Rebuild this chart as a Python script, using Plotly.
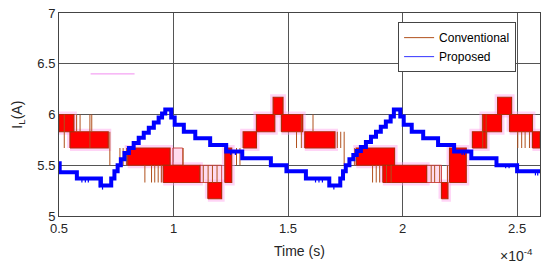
import plotly.graph_objects as go

# ---- data (time in units of 1e-4 s, current in A) ----
# Conventional: dense switching blocks (x_start, x_end, y_low, y_high)
conv_x0 = [0.500, 0.548, 0.800, 0.955, 1.150, 1.224, 1.304, 1.362, 1.435, 1.471,
           1.573, 1.798, 1.914, 2.170, 2.205, 2.305, 2.349, 2.415, 2.467, 2.567]
conv_x1 = [0.565, 0.715, 0.985, 1.115, 1.210, 1.254, 1.362, 1.442, 1.478, 1.564,
           1.705, 1.965, 2.105, 2.198, 2.278, 2.367, 2.432, 2.476, 2.567, 2.600]
conv_lo = [5.83, 5.67, 5.50, 5.33, 5.17, 5.33, 5.67, 5.83, 6.00, 5.83,
           5.67, 5.50, 5.33, 5.17, 5.33, 5.67, 5.83, 6.00, 5.83, 5.67]
conv_hi = [6.00, 5.83, 5.67, 5.50, 5.33, 5.67, 5.83, 6.00, 6.17, 6.00,
           5.83, 5.67, 5.50, 5.33, 5.67, 5.83, 6.00, 6.17, 6.00, 5.83]

# Conventional: sparse switching regions (pale)
pale_x0 = [0.997, 1.115, 2.105]
pale_x1 = [1.040, 1.210, 2.170]
pale_lo = [5.50, 5.33, 5.33]
pale_hi = [5.67, 5.50, 5.50]

# Conventional: isolated switching edges (x, y_from, y_to)
spike_x = [0.523, 0.577, 0.592, 0.635, 0.643, 0.722, 0.766, 0.780, 0.795, 0.875,
           0.904, 0.918, 0.933, 0.947, 1.042, 1.130, 1.151, 1.170, 1.190, 1.275,
           1.290, 1.537, 1.558, 1.609, 1.715, 1.730, 1.745, 1.791, 1.869, 1.885,
           1.900, 1.930, 1.950, 2.125, 2.140, 2.162, 2.196, 2.350, 2.365, 2.503,
           2.520, 2.535, 2.554]
spike_y0 = [6.00, 6.00, 6.00, 6.00, 6.00, 5.83, 5.67, 5.67, 5.67, 5.50,
            5.50, 5.50, 5.50, 5.50, 5.67, 5.50, 5.50, 5.50, 5.50, 5.67,
            5.67, 5.83, 6.00, 6.00, 5.83, 5.83, 5.83, 5.67, 5.50, 5.50,
            5.50, 5.50, 5.50, 5.50, 5.50, 5.50, 5.50, 6.00, 6.00, 5.83,
            5.83, 5.83, 5.83]
spike_y1 = [5.67, 5.83, 5.83, 5.67, 5.83, 5.50, 5.50, 5.50, 5.50, 5.33,
            5.33, 5.33, 5.33, 5.33, 5.50, 5.33, 5.33, 5.33, 5.33, 5.50,
            5.50, 5.67, 5.67, 5.83, 5.67, 5.67, 5.50, 5.50, 5.33, 5.33,
            5.33, 5.33, 5.33, 5.33, 5.33, 5.33, 5.33, 5.67, 5.67, 5.67,
            5.67, 5.67, 5.67]

# Proposed: staircase (step held from x until next x)
prop_x = [0.500, 0.503, 0.578, 0.683, 0.728, 0.742, 0.756, 0.770, 0.786, 0.805,
          0.826, 0.848, 0.870, 0.892, 0.914, 0.935, 0.950, 0.964, 0.990, 1.005,
          1.045, 1.095, 1.160, 1.230, 1.300, 1.425, 1.493, 1.578, 1.680, 1.728,
          1.740, 1.752, 1.768, 1.785, 1.800, 1.818, 1.840, 1.862, 1.884, 1.905,
          1.927, 1.948, 1.962, 1.990, 2.005, 2.040, 2.090, 2.155, 2.225, 2.300,
          2.410, 2.500, 2.600]
prop_y = [5.52, 5.43, 5.37, 5.30, 5.37, 5.44, 5.50, 5.56, 5.62, 5.67,
          5.72, 5.77, 5.82, 5.87, 5.92, 5.97, 6.01, 6.05, 5.97, 5.90,
          5.83, 5.765, 5.70, 5.635, 5.57, 5.50, 5.44, 5.37, 5.30, 5.37,
          5.44, 5.50, 5.56, 5.60, 5.64, 5.68, 5.73, 5.78, 5.83, 5.88,
          5.93, 5.98, 6.05, 5.98, 5.90, 5.83, 5.765, 5.70, 5.635, 5.57,
          5.50, 5.44, 5.44]

# Proposed: small switching ticks (x, y_from, y_to)
ptick_x = [0.600, 0.615, 0.628, 0.675, 0.690, 1.250, 1.270, 1.620, 1.635, 1.650, 1.700,
           2.260, 2.270, 2.450, 2.465, 2.580, 2.590]
ptick_y0 = [5.37, 5.37, 5.37, 5.37, 5.30, 5.635, 5.635, 5.37, 5.37, 5.37, 5.30,
            5.635, 5.635, 5.50, 5.50, 5.44, 5.44]
ptick_y1 = [5.33, 5.33, 5.33, 5.28, 5.26, 5.60, 5.60, 5.33, 5.33, 5.33, 5.26,
            5.60, 5.60, 5.47, 5.47, 5.40, 5.40]

# stray marker line
stray_x = [0.638, 0.830]
stray_y = [6.40, 6.40]

x_ticks = [0.5, 1, 1.5, 2, 2.5]
x_ticklabels = ["0.5", "1", "1.5", "2", "2.5"]
y_ticks = [5, 5.5, 6, 6.5, 7]
y_ticklabels = ["5", "5.5", "6", "6.5", "7"]


def rects(x0s, x1s, los, his):
    xs, ys = [], []
    for a, b, lo, hi in zip(x0s, x1s, los, his):
        xs += [a, b, b, a, a, None]
        ys += [lo, lo, hi, hi, lo, None]
    return xs, ys


def vlines(xs_, y0s, y1s):
    xs, ys = [], []
    for x, a, b in zip(xs_, y0s, y1s):
        xs += [x, x, None]
        ys += [a, b, None]
    return xs, ys


FONT = "Arial, Liberation Sans, Helvetica, sans-serif"
fig = go.Figure()

bx, by = rects(conv_x0, conv_x1, conv_lo, conv_hi)
px_, py_ = rects(pale_x0, pale_x1, pale_lo, pale_hi)
sx, sy = vlines(spike_x, spike_y0, spike_y1)
tx, ty = vlines(ptick_x, ptick_y0, ptick_y1)

# pink halo
fig.add_trace(go.Scatter(x=bx, y=by, mode="lines", line=dict(color="rgba(255,160,235,0.45)", width=6),
                         hoverinfo="skip", showlegend=False))
fig.add_trace(go.Scatter(x=px_, y=py_, mode="lines", fill="toself", fillcolor="rgba(255,190,225,0.55)",
                         line=dict(color="rgba(200,40,40,0.8)", width=1), hoverinfo="skip", showlegend=False))
fig.add_trace(go.Scatter(x=bx, y=by, mode="lines", fill="toself", fillcolor="#ff0000",
                         line=dict(color="#b02a08", width=1.2), hoverinfo="skip", showlegend=False))
fig.add_trace(go.Scatter(x=sx, y=sy, mode="lines", line=dict(color="#b0501c", width=1),
                         name="Conventional"))
fig.add_trace(go.Scatter(x=stray_x, y=stray_y, mode="lines", line=dict(color="#f28cf0", width=1),
                         hoverinfo="skip", showlegend=False))
fig.add_trace(go.Scatter(x=tx, y=ty, mode="lines", line=dict(color="#0000ff", width=1.2),
                         hoverinfo="skip", showlegend=False))
fig.add_trace(go.Scatter(x=prop_x, y=prop_y, mode="lines", line=dict(color="#0000ff", width=4, shape="hv"),
                         showlegend=False))
fig.add_trace(go.Scatter(x=[None], y=[None], mode="lines", line=dict(color="#3333ff", width=1),
                         name="Proposed"))

axis_common = dict(showgrid=True, gridcolor="#555555", gridwidth=1, showline=True, linecolor="#444444",
                   linewidth=1, mirror=True, zeroline=False, ticks="", automargin=False,
                   ticklabeloverflow="allow",
                   tickfont=dict(family=FONT, size=13, color="#262626"))
fig.update_xaxes(range=[0.5, 2.6], tickvals=x_ticks, ticktext=x_ticklabels, **axis_common)
fig.update_yaxes(range=[5, 7], tickvals=y_ticks, ticktext=y_ticklabels, **axis_common)

# the page body adds an 8px offset; margins compensate so the plot area lands at x 59-540, y 13-216
fig.update_layout(
    width=550, height=266,
    margin=dict(l=51, r=18, t=5, b=58, autoexpand=False),
    paper_bgcolor="white", plot_bgcolor="white",
    font=dict(family=FONT, color="#262626"),
    legend=dict(x=0.705, y=0.955, xanchor="left", yanchor="top", bgcolor="white",
                bordercolor="#444444", borderwidth=1, font=dict(family=FONT, size=12, color="#000000"),
                tracegroupgap=0, itemwidth=30),
    annotations=[
        dict(text="Time (s)", xref="paper", yref="paper", x=0.5, y=-0.17, yanchor="middle",
             showarrow=False, font=dict(family=FONT, size=14, color="#262626")),
        dict(text="×10<sup>-4</sup>", xref="paper", yref="paper", x=0.912, y=-0.19, xanchor="left",
             yanchor="middle", showarrow=False, font=dict(family=FONT, size=14, color="#262626")),
        dict(text="I<sub>L</sub>(A)", xref="paper", yref="paper", x=-0.087, y=0.5, textangle=-90,
             xanchor="center", yanchor="middle", showarrow=False,
             font=dict(family=FONT, size=14, color="#262626")),
    ],
)

fig.write_html("out.html")
